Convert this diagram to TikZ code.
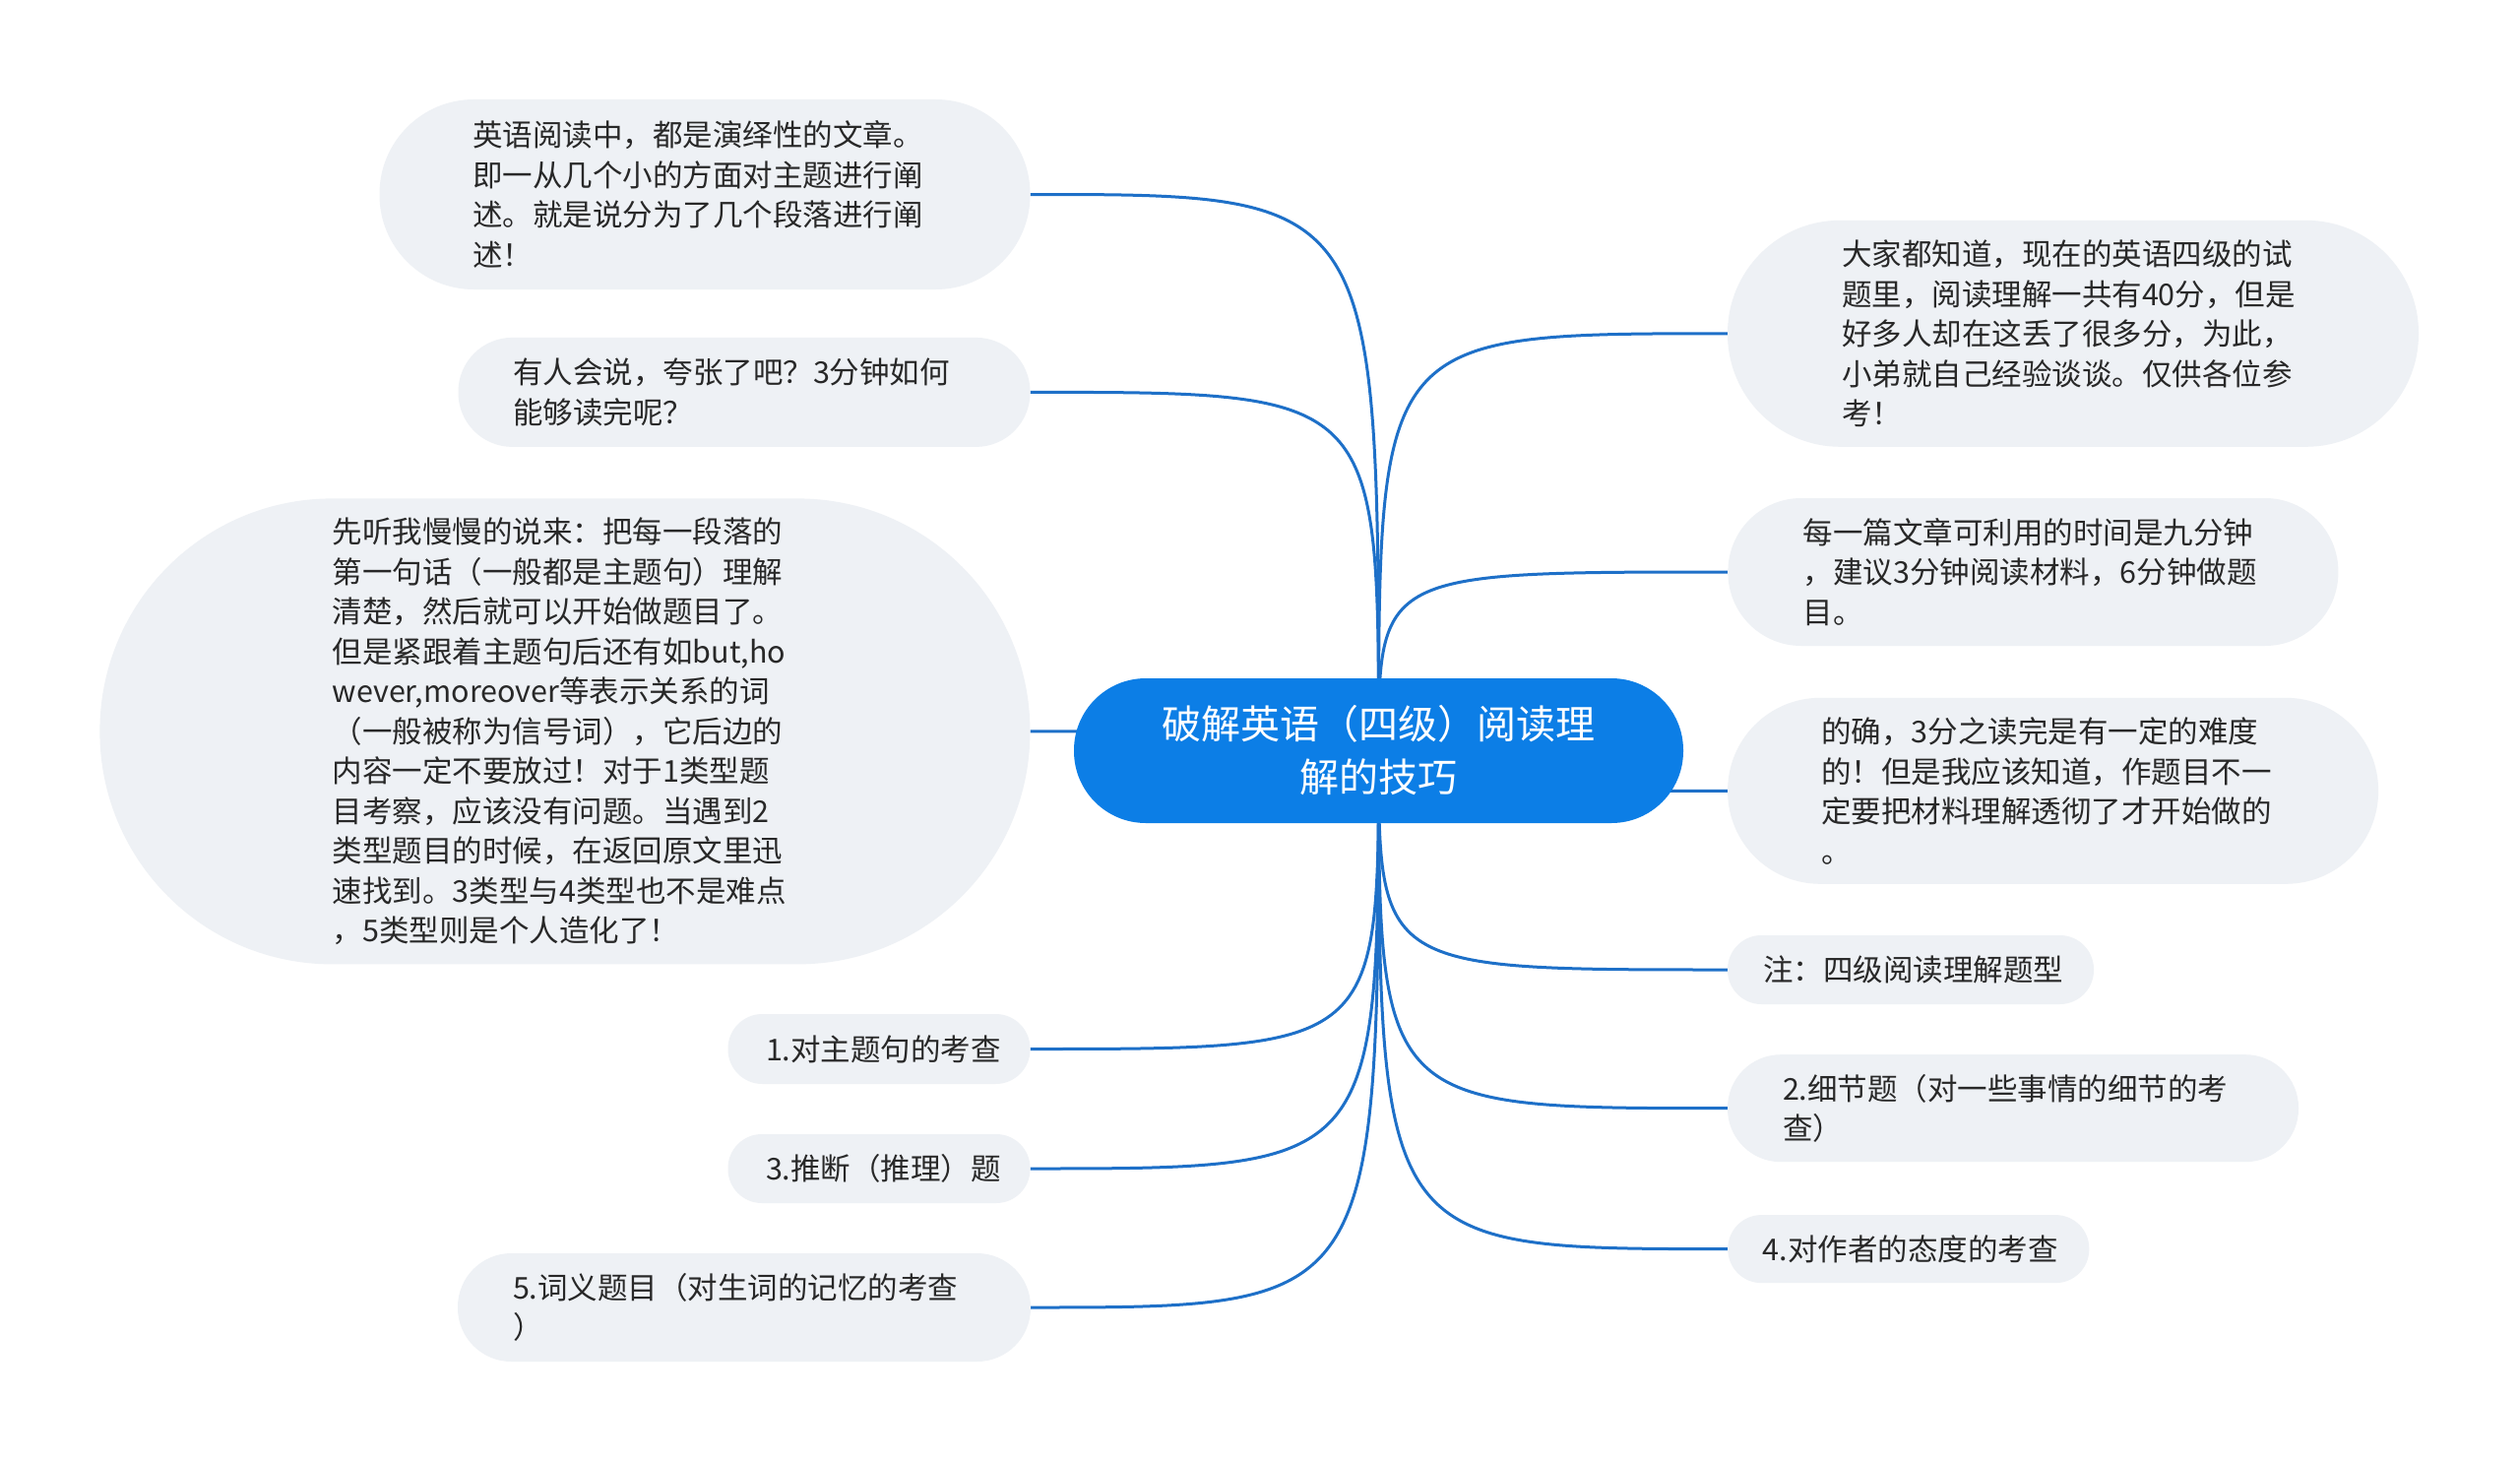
\documentclass[tikz,border=0pt]{standalone}
\usepackage{fontspec}
\newfontfamily\cjk{Noto Sans CJK SC}
\usetikzlibrary{backgrounds}
\definecolor{rootblue}{RGB}{12,126,230}
\definecolor{linkblue}{RGB}{30,112,200}
\definecolor{leafbg}{RGB}{238,241,245}
\definecolor{leaftext}{RGB}{40,40,40}
\begin{document}
\begin{tikzpicture}[x=1pt,y=-1pt,
  leaf/.style={fill=leafbg, text=leaftext, font=\cjk\fontsize{30.5}{40.5}\selectfont, align=left, inner sep=0pt},
  rootnode/.style={fill=rootblue, text=white, font=\cjk\fontsize{40}{54}\selectfont, align=center, inner sep=0pt, minimum width=619pt, minimum height=147pt, rounded corners=73pt},
  conn/.style={draw=linkblue, line width=3pt}]
\useasboundingbox (0,0) rectangle (2560,1485);

\node[rootnode] (root) at (1400.5,762.5) {破解英语（四级）阅读理\\解的技巧};

% left side
\node[leaf, minimum width=661pt, minimum height=193pt, rounded corners=96pt, text width=472pt] (l1) at (716,197.5)
  {英语阅读中，都是演绎性的文章。\\即一从几个小的方面对主题进行阐\\述。就是说分为了几个段落进行阐\\述！};
\node[leaf, minimum width=581pt, minimum height=111pt, rounded corners=55pt, text width=470pt] (l2) at (756,398.4)
  {有人会说，夸张了吧？3分钟如何\\能够读完呢？};
\node[leaf, minimum width=945pt, minimum height=473pt, rounded corners=236pt, text width=472pt] (l3) at (573.9,742.9)
  {先听我慢慢的说来：把每一段落的\\第一句话（一般都是主题句）理解\\清楚，然后就可以开始做题目了。\\但是紧跟着主题句后还有如but,ho\\wever,moreover等表示关系的词\\（一般被称为信号词），它后边的\\内容一定不要放过！对于1类型题\\目考察，应该没有问题。当遇到2\\类型题目的时候，在返回原文里迅\\速找到。3类型与4类型也不是难点\\，5类型则是个人造化了！};
\node[leaf, minimum width=307pt, minimum height=71pt, rounded corners=35pt, text width=230pt] (l4) at (893,1065.5)
  {1.对主题句的考查};
\node[leaf, minimum width=307pt, minimum height=70pt, rounded corners=34.5pt, text width=230pt] (l5) at (893,1187)
  {3.推断（推理）题};
\node[leaf, minimum width=582pt, minimum height=110pt, rounded corners=54.5pt, text width=470pt] (l6) at (756,1328)
  {5.词义题目（对生词的记忆的考查\\）};

% right side
\node[leaf, minimum width=702pt, minimum height=230pt, rounded corners=114.5pt, text width=470pt] (r1) at (2106,338.8)
  {大家都知道，现在的英语四级的试\\题里，阅读理解一共有40分，但是\\好多人却在这丢了很多分，为此，\\小弟就自己经验谈谈。仅供各位参\\考！};
\node[leaf, minimum width=620pt, minimum height=150pt, rounded corners=74.5pt, text width=467pt] (r2) at (2065.4,581)
  {每一篇文章可利用的时间是九分钟\\，建议3分钟阅读材料，6分钟做题\\目。};
\node[leaf, minimum width=661pt, minimum height=189pt, rounded corners=94pt, text width=471pt] (r3) at (2085.6,803.3)
  {的确，3分之读完是有一定的难度\\的！但是我应该知道，作题目不一\\定要把材料理解透彻了才开始做的\\。};
\node[leaf, minimum width=372pt, minimum height=70pt, rounded corners=34.5pt, text width=300pt] (r4) at (1941,985)
  {注：四级阅读理解题型};
\node[leaf, minimum width=580pt, minimum height=109pt, rounded corners=54pt, text width=468pt] (r5) at (2045,1125.7)
  {2.细节题（对一些事情的细节的考\\查）};
\node[leaf, minimum width=367pt, minimum height=69pt, rounded corners=34pt, text width=296pt] (r6) at (1938.8,1268.6)
  {4.对作者的态度的考查};

\begin{scope}[on background layer]
  \fill[white] (0,0) rectangle (2560,1485);
  \foreach \n in {l1,l2,l3,l4,l5,l6}{
    \draw[conn] (root.center) .. controls (root.center |- \n.east) .. (\n.east);
  }
  \foreach \n in {r1,r2,r3,r4,r5,r6}{
    \draw[conn] (root.center) .. controls (root.center |- \n.west) .. (\n.west);
  }
\end{scope}
\end{tikzpicture}
\end{document}
